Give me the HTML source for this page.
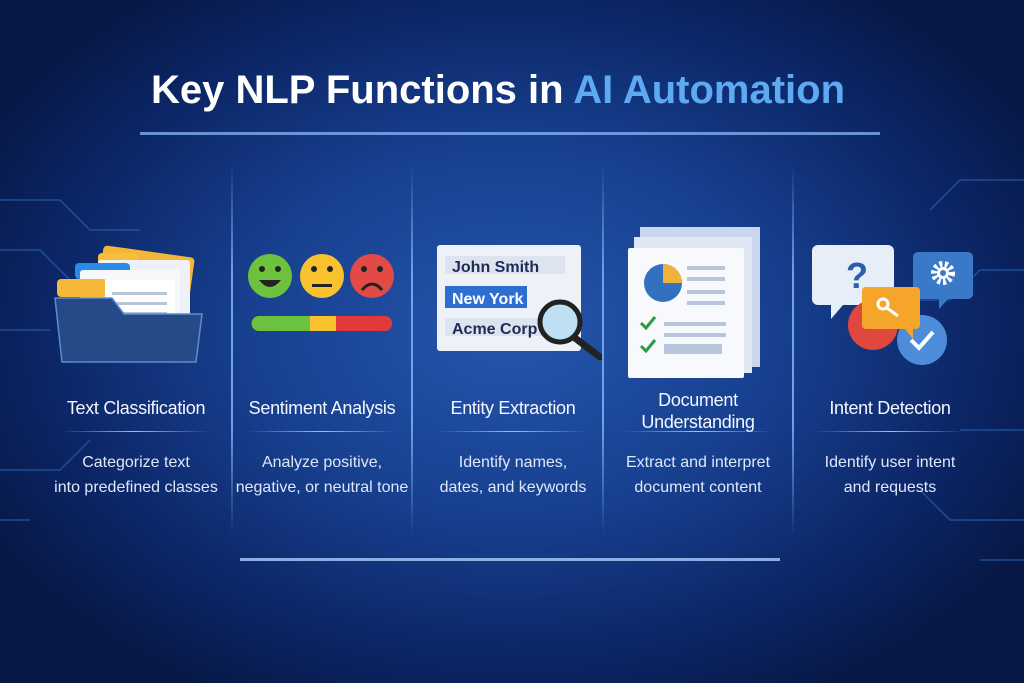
<!DOCTYPE html>
<html><head><style>
body{margin:0;width:1024px;height:683px;overflow:hidden;font-family:"Liberation Sans",sans-serif;
background:radial-gradient(ellipse 600px 420px at 512px 330px,#2556ad 0%,#173f8e 45%,#0b2463 80%,#071845 100%);position:relative}
.t{position:absolute;color:#fff;text-align:center}
.h{font-size:18px;top:398px;width:180px;color:#f4f7ff;letter-spacing:-0.3px}
.d{font-size:16px;top:450px;width:190px;line-height:25px;color:#dfe8fa}
.ul{position:absolute;top:431px;height:1px;width:150px;background:linear-gradient(90deg,transparent,#9cc0f0,transparent)}
.v{position:absolute;top:165px;height:370px;width:2px;background:linear-gradient(180deg,transparent,#6fa3e8 30%,#6fa3e8 70%,transparent)}
</style></head><body>
<svg width="1024" height="683" style="position:absolute;left:0;top:0">
<g stroke="#2d6bc0" stroke-width="1.5" fill="none" opacity="0.6">
<path d="M0 200 H60 L90 230 H140"/><path d="M0 250 H40 L70 280"/><path d="M0 330 H50"/><path d="M0 470 H60 L90 440"/><path d="M0 520 H30"/>
<path d="M1024 180 H960 L930 210"/><path d="M1024 270 H980 L950 300 H900"/><path d="M1024 430 H960"/><path d="M1024 520 H950 L920 490"/><path d="M1024 560 H980"/>
</g>
<rect x="140" y="132" width="740" height="3" fill="#8fc0ff" opacity="0.7"/>
<rect x="240" y="558" width="540" height="3" fill="#a8d0ff" opacity="0.8"/>
<!-- folder -->
<rect x="98" y="252" width="92" height="70" rx="4" fill="#f3b53a" transform="rotate(8 150 290)"/>
<rect x="98" y="253" width="40" height="14" rx="4" fill="#f7be3a"/>
<rect x="98" y="260" width="92" height="60" rx="3" fill="#eef1f7"/>
<rect x="75" y="263" width="55" height="16" rx="4" fill="#2a8be6"/>
<rect x="80" y="270" width="100" height="60" rx="3" fill="#f7f8fb"/>
<rect x="57" y="279" width="50" height="18" rx="4" fill="#f5b83a"/>
<rect x="105" y="280" width="70" height="50" fill="#fff"/>
<g fill="#b9c6da"><rect x="112" y="292" width="55" height="3"/><rect x="112" y="302" width="55" height="3"/><rect x="112" y="312" width="55" height="3"/></g>
<path d="M55 298 H112 L124 314 H202 L196 362 H62 Z" fill="#264a88" stroke="#5d8bd0" stroke-width="1.5"/>
<!-- smileys -->
<circle cx="270" cy="276" r="22" fill="#6cc23e"/><circle cx="322" cy="276" r="22" fill="#f8c12e"/><circle cx="372" cy="276" r="22" fill="#e24a45"/>
<g fill="#222"><circle cx="262" cy="269" r="3"/><circle cx="278" cy="269" r="3"/><circle cx="314" cy="269" r="3"/><circle cx="330" cy="269" r="3"/><circle cx="364" cy="269" r="3"/><circle cx="380" cy="269" r="3"/></g>
<path d="M259 280 Q270 294 281 280 Z" fill="#222"/><rect x="312" y="284" width="20" height="3" fill="#222"/>
<path d="M362 290 Q372 278 382 290" stroke="#222" stroke-width="3" fill="none"/>
<rect x="252" y="316" width="140" height="15" rx="7" fill="#e03a3a"/>
<path d="M259 316 H310 V331 H259 A7 7 0 0 1 259 316Z" fill="#6cc23e"/><rect x="310" y="316" width="26" height="15" fill="#f8c12e"/>
<!-- entity -->
<rect x="437" y="245" width="144" height="106" rx="3" fill="#eef1f8"/>
<rect x="445" y="256" width="120" height="18" fill="#dde4f0"/>
<rect x="445" y="286" width="82" height="22" fill="#2c6fd0"/>
<rect x="445" y="318" width="120" height="18" fill="#dde4f0"/>
<text x="452" y="272" font-size="16" font-weight="bold" fill="#1c2c55" font-family="Liberation Sans">John Smith</text>
<text x="452" y="304" font-size="16" font-weight="bold" fill="#fff" font-family="Liberation Sans">New York</text>
<text x="452" y="334" font-size="16" font-weight="bold" fill="#1c2c55" font-family="Liberation Sans">Acme Corp</text>
<line x1="575" y1="338" x2="600" y2="357" stroke="#222" stroke-width="7" stroke-linecap="round"/>
<circle cx="560" cy="322" r="20" fill="#bfe0f2" stroke="#222" stroke-width="5"/>
<!-- document -->
<rect x="640" y="227" width="120" height="140" fill="#c9d6ee"/>
<rect x="634" y="237" width="118" height="136" fill="#dfe7f5"/>
<rect x="628" y="248" width="116" height="130" rx="2" fill="#f7f9fc"/>
<circle cx="663" cy="283" r="19" fill="#3470c0"/><path d="M663 283 V264 A19 19 0 0 1 682 283 Z" fill="#f1b23a"/>
<g fill="#b8c6dd"><rect x="687" y="266" width="38" height="4"/><rect x="687" y="277" width="38" height="4"/><rect x="687" y="290" width="38" height="4"/><rect x="687" y="301" width="38" height="4"/><rect x="664" y="322" width="62" height="4"/><rect x="664" y="333" width="62" height="4"/><rect x="664" y="344" width="58" height="10"/></g>
<path d="M641 323 l5 5 l9 -11 M641 346 l5 5 l9 -11" stroke="#2a9a45" stroke-width="3" fill="none"/>
<!-- intent -->
<path d="M818 245 h70 a6 6 0 0 1 6 6 v48 a6 6 0 0 1 -6 6 h-45 l-12 14 v-14 h-13 a6 6 0 0 1 -6 -6 v-48 a6 6 0 0 1 6 -6z" fill="#e8eef8"/>
<text x="857" y="288" font-size="36" font-weight="bold" fill="#2a5fae" text-anchor="middle" font-family="Liberation Sans">?</text>
<path d="M918 252 h50 a5 5 0 0 1 5 5 v37 a5 5 0 0 1 -5 5 h-20 l-9 10 v-10 h-21 a5 5 0 0 1 -5 -5 v-37 a5 5 0 0 1 5 -5z" fill="#3a78c8"/>
<circle cx="943" cy="273" r="9" fill="none" stroke="#fff" stroke-width="6" stroke-dasharray="3 2.5"/><circle cx="943" cy="273" r="6" fill="#fff"/><circle cx="943" cy="273" r="3" fill="#3a78c8"/>
<circle cx="873" cy="325" r="25" fill="#e0473f"/>
<circle cx="922" cy="340" r="25" fill="#4c8cd8"/>
<path d="M911 340 l8 8 l14 -16" stroke="#fff" stroke-width="4" fill="none"/>
<rect x="862" y="287" width="58" height="42" rx="4" fill="#f4a52a"/><path d="M905 329 l8 10 v-10z" fill="#f4a52a"/>
<circle cx="883" cy="304" r="5" fill="none" stroke="#fff" stroke-width="3"/><line x1="887" y1="308" x2="898" y2="316" stroke="#fff" stroke-width="3"/>
</svg>
<div class="t" style="left:0;width:996px;top:68px;font-size:40px;font-weight:bold">Key NLP Functions in <span style="color:#5eaaf2">AI Automation</span></div>
<div class="v" style="left:231px"></div><div class="v" style="left:411px"></div><div class="v" style="left:602px"></div><div class="v" style="left:792px"></div>
<div class="t h" style="left:46px">Text Classification</div>
<div class="t h" style="left:232px">Sentiment Analysis</div>
<div class="t h" style="left:423px">Entity Extraction</div>
<div class="t h" style="left:608px;top:389px;line-height:22px">Document<br>Understanding</div>
<div class="t h" style="left:800px">Intent Detection</div>
<div class="ul" style="left:60px"></div><div class="ul" style="left:247px"></div><div class="ul" style="left:438px"></div><div class="ul" style="left:623px"></div><div class="ul" style="left:815px"></div>
<div class="t d" style="left:41px">Categorize text<br>into predefined classes</div>
<div class="t d" style="left:227px">Analyze positive,<br>negative, or neutral tone</div>
<div class="t d" style="left:418px">Identify names,<br>dates, and keywords</div>
<div class="t d" style="left:603px">Extract and interpret<br>document content</div>
<div class="t d" style="left:795px">Identify user intent<br>and requests</div>
</body></html>
